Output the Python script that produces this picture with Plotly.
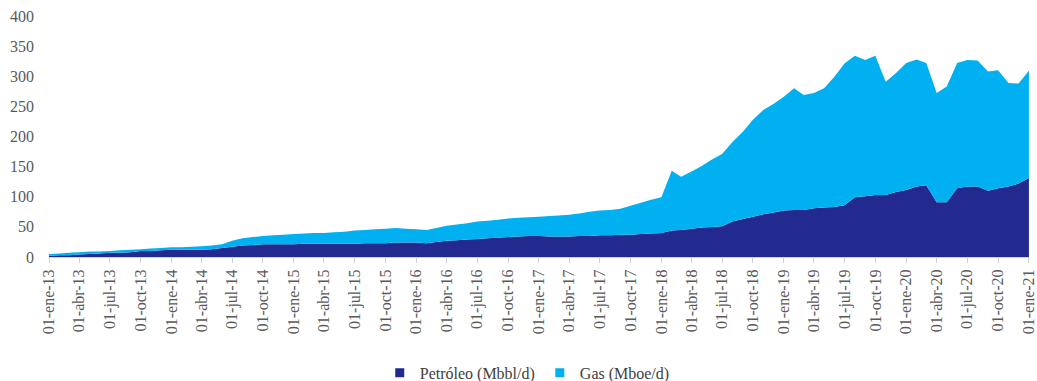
import pandas as pd
import plotly.graph_objects as go

# Monthly series, Jan-2013 .. Jan-2021
start_month = "2013-01-01"
n_months = 97

petroleo = [2, 3, 3, 4, 5, 6, 7, 7, 8, 10, 10, 11,
            12, 12, 12, 12, 13, 15, 17, 19, 20, 21, 21, 21,
            21, 22, 22, 22, 22, 22, 22, 23, 23, 23, 24, 24,
            24, 23, 25, 27, 28, 29, 30, 31, 32, 33, 34, 35,
            35, 34, 34, 34, 35, 35, 36, 36, 37, 37, 38, 39,
            40, 44, 45, 47, 49, 50, 51, 59, 63, 67, 71, 74,
            77, 78, 78, 81, 82, 83, 86, 99, 101, 103, 103, 108,
            111, 117, 119, 91, 91, 114, 117, 117, 110, 114, 117, 122,
            131]

total = [5, 6, 7, 8, 9, 9, 10, 11, 12, 13, 14, 15,
         16, 16, 17, 18, 19, 21, 27, 31, 33, 35, 36, 37,
         38, 39, 40, 40, 41, 42, 44, 45, 46, 47, 48, 47,
         46, 45, 48, 52, 54, 56, 59, 60, 62, 64, 65, 66,
         67, 68, 69, 70, 72, 75, 77, 78, 80, 85, 90, 95,
         99, 143, 133, 142, 151, 162, 171, 191, 208, 228, 244, 254,
         266, 280, 269, 272, 280, 299, 321, 334, 327, 334, 291, 305,
         322, 328, 322, 272, 283, 322, 327, 326, 308, 310, 289, 288,
         309]

gas = [t - p for t, p in zip(total, petroleo)]

series_names = ["Petróleo (Mbbl/d)", "Gas (Mboe/d)"]
series_colors = ["#232A8F", "#00B0F0"]

mes_abrev = {1: "ene", 4: "abr", 7: "jul", 10: "oct"}
y_ticks = [0, 50, 100, 150, 200, 250, 300, 350, 400]

fechas = pd.date_range(start_month, periods=n_months, freq="MS")
tick_fechas = [d for d in fechas if d.month in mes_abrev]
tick_text = [f"01-{mes_abrev[d.month]}-{d.strftime('%y')}" for d in tick_fechas]

font_fam = "'Liberation Serif', 'DejaVu Serif', serif"

fig = go.Figure()
for name, vals, col in zip(series_names, [petroleo, gas], series_colors):
    fig.add_trace(go.Scatter(
        x=fechas, y=vals, name=name, stackgroup="one", showlegend=False,
        mode="none", fillcolor=col, line=dict(width=0)))
# legend entries with square markers
for name, col in zip(series_names, series_colors):
    fig.add_trace(go.Scatter(
        x=[None], y=[None], name=name, mode="markers",
        marker=dict(symbol="square", size=9, color=col)))

fig.update_layout(
    width=1037, height=381,
    margin=dict(l=49, r=8, t=16, b=124, autoexpand=False),
    paper_bgcolor="white", plot_bgcolor="white",
    font=dict(family=font_fam, color="#595959", size=15),
    showlegend=True,
    legend=dict(orientation="h", x=0.488, xanchor="center", y=-0.481, yanchor="middle",
                font=dict(family=font_fam, size=16, color="#404040"),
                itemwidth=30, traceorder="normal"),
    xaxis=dict(
        range=[fechas[0], fechas[-1] + pd.Timedelta(hours=6)],
        tickmode="array", tickvals=tick_fechas, ticktext=tick_text,
        tickangle=-90, showgrid=False, zeroline=False,
        showline=True, linecolor="#C9D1E8", linewidth=1,
        ticks="outside", ticklen=5, tickcolor="#D0D0D0",
        ticklabeloverflow="allow",
        tickfont=dict(family=font_fam, size=16, color="#595959"),
    ),
    yaxis=dict(
        range=[0, 400], tickvals=y_ticks, showgrid=False, zeroline=False,
        showline=False, ticks="", tickfont=dict(family=font_fam, size=16, color="#595959"),
        ticklabelstandoff=14,
    ),
)

fig.write_html("out.html")
